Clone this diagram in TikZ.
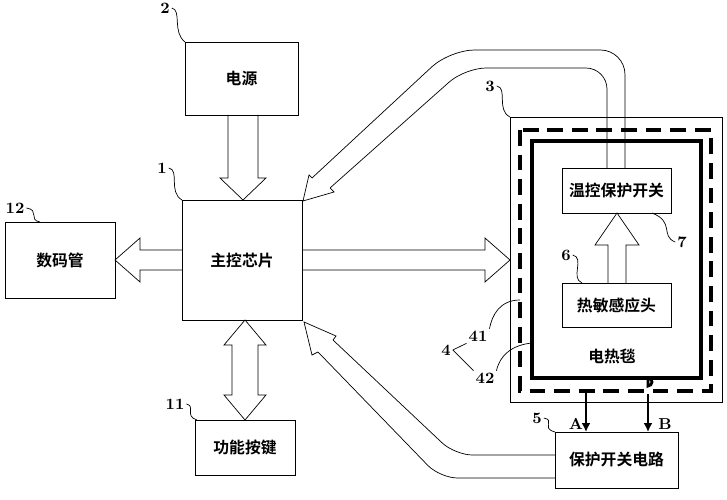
\documentclass[tikz,border=0pt]{standalone}
\usepackage{fontspec}
\newfontfamily\cjk{Noto Sans CJK SC}[BoldFont={Noto Sans CJK SC Bold}]
\usetikzlibrary{positioning,calc,arrows.meta}
\tikzset{
  blk/.style={draw, thin, font=\cjk\bfseries\small, inner sep=2pt},
  hollow/.style={draw, thin, line join=miter},
  tag/.style={font=\bfseries\small, inner sep=1pt},
  lead/.style={draw, thin},
  sig/.style={line width=1.6pt, -{Latex[length=5pt,width=5pt]}},
}
\begin{document}
\begin{tikzpicture}[x=0.02cm, y=-0.02cm]
\useasboundingbox (0,0) rectangle (727,500);
%% blocks
\node[blk, minimum width=2.26cm, minimum height=1.46cm] (psu) at (241.5,78.5) {电源};
\node[blk, minimum width=2.4cm, minimum height=2.4cm] (mcu) at (242,260) {主控芯片};
\node[blk, minimum width=2.2cm, minimum height=1.52cm] (disp) at (60,260) {数码管};
\node[blk, minimum width=2cm, minimum height=1.1cm] (keys) at (245,447.5) {功能按键};
\node[draw, thin, minimum width=4.24cm, minimum height=5.7cm] (blanket) at (616,259.5) {};
\draw[line width=2.2pt, dash pattern=on 9pt off 5pt] (520,130) rectangle (711,391);
\node[draw, line width=2.2pt, minimum width=3.38cm, minimum height=4.74cm] (wire) at (616.5,259.5) {};
\node[font=\cjk\bfseries\small] (bname) at (612,356) {电热毯};
\node[blk, minimum width=2.18cm, minimum height=0.9cm] (tsw) at (616.5,190.5) {温控保护开关};
\node[blk, minimum width=2.18cm, minimum height=0.88cm] (sens) at (616.5,305) {热敏感应头};
\node[blk, minimum width=2.46cm, minimum height=1.12cm] (prot) at (616.5,460) {保护开关电路};

%% hollow arrows
\draw[hollow] (228,115) -- (228,178) -- (220,178) -- (243,200) -- (266,178) -- (258,178) -- (258,115);
\draw[hollow] (182,250) -- (140,250) -- (140,238) -- (115,260) -- (140,282) -- (140,270) -- (182,270);
\draw[hollow] (302,250) -- (485,250) -- (485,238) -- (510,260) -- (485,282) -- (485,270) -- (302,270);
\draw[hollow] (245,320) -- (266,345) -- (258,345) -- (258,395) -- (266,395) -- (245,420)
  -- (224,395) -- (232,395) -- (232,345) -- (224,345) -- cycle;
\draw[hollow] (608,283) -- (608,245) -- (595,245) -- (617,213) -- (639,245) -- (626,245) -- (626,283);
%% feedback from switch to chip
\draw[hollow, rounded corners=12pt] (607,168) -- (607,68) -- (465,68) -- (330,188);
\draw[hollow, rounded corners=14pt] (625,168) -- (625,50) -- (450,50) -- (312,178);
\draw[hollow] (312,178) -- (309,175) -- (303,201) -- (334,192) -- (330,188);
%% return from protection circuit
\draw[hollow, rounded corners=10pt] (555,455) -- (455,455) -- (333,340);
\draw[hollow, rounded corners=10pt] (555,478) -- (440,478) -- (318,352);
\draw[hollow] (333,340) -- (336,336) -- (304,322) -- (312,355) -- (318,352);

%% lines A and B
\draw[sig] (586,391) -- (586,432);
\draw[line width=1.6pt] (648,378) -- (648,386) arc[start angle=90, end angle=-90, radius=4];
\draw[sig] (648,394) -- (648,432);
\node[tag] (la) at (576,424) {A};
\node[tag] (lb) at (665,424) {B};

%% reference numerals
\node[tag] (n2) at (165,8) {2};
\node[tag] (n1) at (162,168) {1};
\node[tag] (n12) at (15,208) {12};
\node[tag] (n3) at (490,86) {3};
\node[tag] (n11) at (175,404) {11};
\node[tag] (n5) at (537,418) {5};
\node[tag] (n6) at (566,255) {6};
\node[tag] (n7) at (682,242) {7};
\node[tag] (n41) at (478,336) {41};
\node[tag] (n42) at (485,378) {42};
\node[tag] (n4) at (446,350) {4};
\draw[lead] (n2.east) .. controls (182,10) and (172,32) .. (185,42);
\draw[lead] (n1.east) .. controls (180,170) and (168,192) .. (182,200);
\draw[lead] (n12.east) .. controls (40,210) and (28,220) .. (40,222);
\draw[lead] (n3.east) .. controls (508,88) and (496,110) .. (510,117);
\draw[lead] (n11.east) .. controls (196,406) and (184,416) .. (197,420);
\draw[lead] (n5.east) .. controls (556,420) and (540,428) .. (555,432);
\draw[lead] (n6.east) .. controls (585,258) and (570,278) .. (582,283);
\draw[lead] (n7.west) .. controls (660,236) and (675,222) .. (652,213);
\draw[lead] (n41.north east) .. controls (492,315) and (500,300) .. (520,300);
\draw[lead] (n42.north east) .. controls (500,355) and (512,345) .. (532,343);
\draw[lead] (n4.east) -- (n41.south west);
\draw[lead] (n4.east) -- (n42.north west);
\end{tikzpicture}
\end{document}
